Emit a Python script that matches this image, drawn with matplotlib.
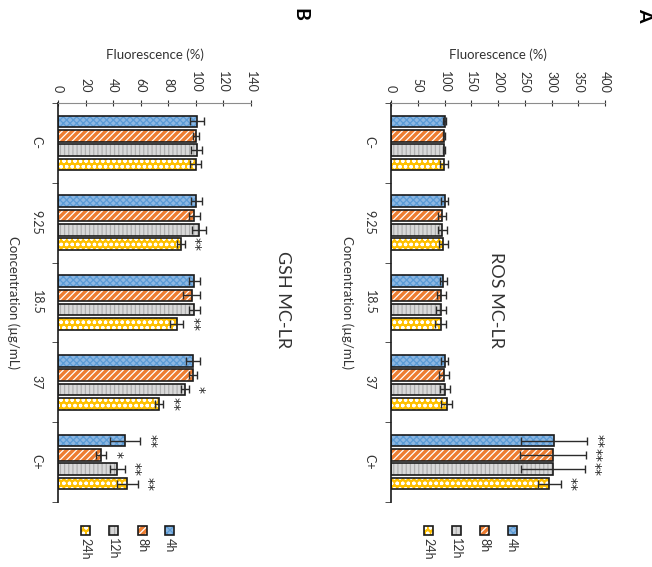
import numpy as np
import matplotlib.pyplot as plt
from matplotlib.patches import Rectangle

plt.rcParams['font.family'] = ['Lato', 'DejaVu Sans']
plt.rcParams['hatch.linewidth'] = 0.9

# data
concentrations = ['C-', '9.25', '18.5', '37', 'C+']
times = ['4h', '8h', '12h', '24h']

ros_4h = [100, 100, 98, 100, 305]
ros_8h = [99, 95, 94, 99, 303]
ros_12h = [99, 96, 93, 101, 303]
ros_24h = [99, 98, 93, 104, 296]
ros_err_4h = [2, 6, 6, 7, 62]
ros_err_8h = [2, 8, 8, 9, 61]
ros_err_12h = [2, 8, 9, 9, 60]
ros_err_24h = [8, 8, 10, 10, 22]
ros_sig_4h = ['', '', '', '', '**']
ros_sig_8h = ['', '', '', '', '**']
ros_sig_12h = ['', '', '', '', '**']
ros_sig_24h = ['', '', '', '', '**']

gsh_4h = [100.7, 100.2, 99, 97.8, 48.8]
gsh_8h = [100, 99, 97, 98, 31.5]
gsh_12h = [100.7, 102, 99, 92, 43]
gsh_24h = [100, 89, 86, 73.4, 50.4]
gsh_err_4h = [5, 4, 4, 5, 11]
gsh_err_8h = [2, 4, 6, 3, 3.6]
gsh_err_12h = [4, 5, 4, 3, 5.4]
gsh_err_24h = [4, 3, 5, 3, 7.8]
gsh_sig_4h = ['', '', '', '', '**']
gsh_sig_8h = ['', '', '', '', '*']
gsh_sig_12h = ['', '', '', '*', '**']
gsh_sig_24h = ['', '**', '**', '**', '**']

# face colour, hatch, hatch colour per time point
styles = {
    '4h': ('#8DB7E2', 'xxxxx', '#5B9BD5'),
    '8h': ('#ED7D31', '/////', 'white'),
    '12h': ('#D9D9D9', '||||', '#B0B0B0'),
    '24h': ('#FFC000', 'ooo', 'white'),
}

W, H = 652, 567
fig = plt.figure(figsize=(W / 100, H / 100), dpi=100)


def box(x0, y0, x1, y1):
    return [x0 / W, 1 - y1 / H, (x1 - x0) / W, (y1 - y0) / H]


def fx(x):
    return x / W


def fy(y):
    return 1 - y / H


def panel(ax, series, errors, sigs, xmax, step, legend_x):
    pos = np.arange(len(concentrations))
    offsets = [-0.27, -0.09, 0.09, 0.27]
    for t, vals, err, sig, off in zip(times, series, errors, sigs, offsets):
        face, hatch, hcol = styles[t]
        y = pos + off
        ax.barh(y, vals, height=0.145, color=face, hatch=hatch,
                edgecolor=hcol, linewidth=0, zorder=2)
        ax.barh(y, vals, height=0.145, color='none', edgecolor='#1a1a1a',
                linewidth=1.2, zorder=3)
        ax.errorbar(vals, y, xerr=err, fmt='none', ecolor='#2b2b2b',
                    elinewidth=1, capsize=3, capthick=1, zorder=4)
        for v, e, yy, s in zip(vals, err, y, sig):
            if s:
                ax.annotate(s, (v + e, yy), xytext=(2, 0),
                            textcoords='offset points', rotation=270,
                            ha='left', va='center', fontsize=10,
                            family='DejaVu Sans', color='#222222')

    ax.set_xlim(0, xmax)
    ax.set_xticks(np.arange(0, xmax + 1, step))
    ax.xaxis.tick_top()
    ax.tick_params(axis='x', top=True, bottom=False, direction='inout',
                   length=5, pad=5, labelsize=9, colors='#333333')
    plt.setp(ax.get_xticklabels(), rotation=270)

    ax.set_ylim(len(concentrations) - 0.5, -0.5)
    ax.set_yticks(pos)
    ax.set_yticklabels(concentrations, rotation=270, va='center', ha='right')
    ax.set_yticks(np.arange(-0.5, len(concentrations), 1), minor=True)
    ax.tick_params(axis='y', which='major', length=0, pad=11,
                   labelsize=9, colors='#333333')
    ax.tick_params(axis='y', which='minor', length=4, direction='out',
                   color='#333333')

    for side in ['right', 'bottom']:
        ax.spines[side].set_visible(False)
    ax.spines['top'].set_color('#8c8c8c')
    ax.spines['left'].set_color('#1a1a1a')
    ax.spines['left'].set_linewidth(1.2)

    ax.text(0.5, 1.12, 'Fluorescence (%)', transform=ax.transAxes,
            ha='center', va='center', fontsize=9.5, color='#333333')

    # legend: hatched squares with labels underneath
    for t, x in zip(times, legend_x):
        face, hatch, hcol = styles[t]
        r = (fx(x - 4.5), fy(534.5), 9 / W, 9 / H)
        fig.add_artist(Rectangle(r[:2], r[2], r[3], transform=fig.transFigure,
                                 facecolor=face, hatch=hatch, edgecolor=hcol,
                                 linewidth=0))
        fig.add_artist(Rectangle(r[:2], r[2], r[3], transform=fig.transFigure,
                                 facecolor='none', edgecolor='#1a1a1a',
                                 linewidth=1.2))
        fig.text(fx(x), fy(538), t, rotation=270, ha='center', va='top',
                 fontsize=9, color='#333333')


ax_a = fig.add_axes(box(391, 103, 605, 502))
ax_b = fig.add_axes(box(58, 103, 251, 502))

panel(ax_a, [ros_4h, ros_8h, ros_12h, ros_24h],
      [ros_err_4h, ros_err_8h, ros_err_12h, ros_err_24h],
      [ros_sig_4h, ros_sig_8h, ros_sig_12h, ros_sig_24h],
      400, 50, [512, 484, 456, 428])
panel(ax_b, [gsh_4h, gsh_8h, gsh_12h, gsh_24h],
      [gsh_err_4h, gsh_err_8h, gsh_err_12h, gsh_err_24h],
      [gsh_sig_4h, gsh_sig_8h, gsh_sig_12h, gsh_sig_24h],
      140, 20, [170, 142, 113, 85])

# axis titles, panel titles and panel letters
fig.text(fx(347), fy(302), 'Concentration (µg/mL)', rotation=270,
         ha='center', va='center', fontsize=9.5, color='#333333')
fig.text(fx(13), fy(302), 'Concentration (µg/mL)', rotation=270,
         ha='center', va='center', fontsize=9.5, color='#333333')
fig.text(fx(496), fy(300), 'ROS MC-LR', rotation=270,
         ha='center', va='center', fontsize=13, color='#333333')
fig.text(fx(283), fy(300), 'GSH MC-LR', rotation=270,
         ha='center', va='center', fontsize=13, color='#333333')
fig.text(fx(645), fy(15), 'A', rotation=270, ha='center', va='center',
         fontsize=14, fontweight='bold')
fig.text(fx(300), fy(15), 'B', rotation=270, ha='center', va='center',
         fontsize=14, fontweight='bold')

fig.savefig('out.png', dpi=100, facecolor='white')
